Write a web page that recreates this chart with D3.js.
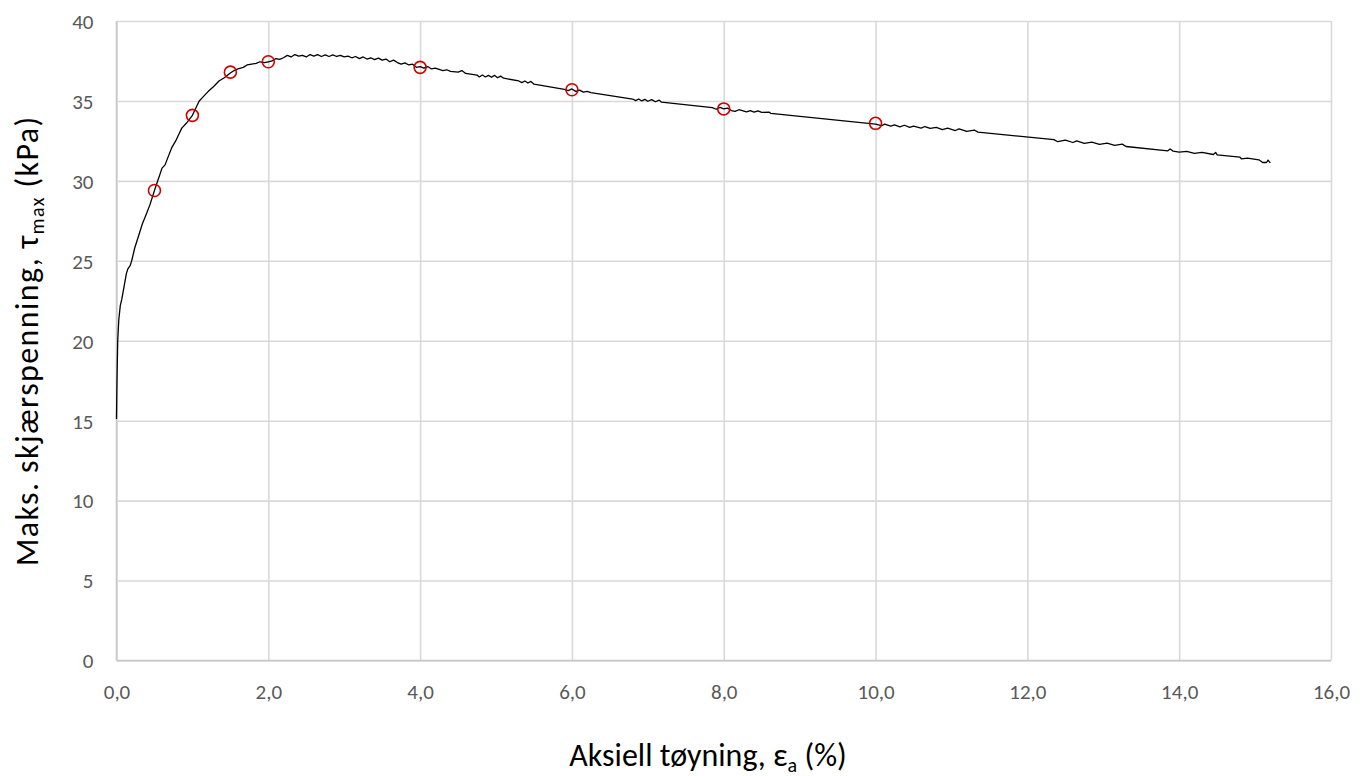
<!DOCTYPE html>
<html>
<head>
<meta charset="utf-8">
<script src="https://cdn.jsdelivr.net/npm/d3@7/dist/d3.min.js"></script>
<style>
  html, body { margin: 0; padding: 0; background: #ffffff; }
  svg { display: block; }
  text { font-family: Carlito, Calibri, Lato, "Liberation Sans", sans-serif; }
</style>
</head>
<body>
<svg id="chart" width="1369" height="776"></svg>
<script>
// ---- Data ----
const strain = [
  0.00, 0.005, 0.01, 0.016, 0.03, 0.05, 0.07, 0.10, 0.13, 0.15, 0.18, 0.20, 0.24, 0.28, 0.34, 0.40, 0.44,
  0.50, 0.55, 0.60, 0.64, 0.68, 0.73, 0.78, 0.82, 0.86, 0.92, 1.00, 1.05, 1.09, 1.15, 1.21, 1.28, 1.35,
  1.42, 1.50, 1.55, 1.60, 1.67, 1.72, 1.78, 1.84, 1.89, 1.95, 2.00, 2.05, 2.10, 2.15, 2.20, 2.25, 2.30,
  2.35, 2.40, 2.45, 2.50, 2.55, 2.60, 2.65, 2.70, 2.75, 2.80, 2.85, 2.90, 2.95, 3.00, 3.05, 3.10, 3.15,
  3.20, 3.25, 3.30, 3.35, 3.40, 3.45, 3.50, 3.55, 3.60, 3.65, 3.70, 3.75, 3.80, 3.85, 3.90, 3.95, 4.00,
  4.05, 4.10, 4.15, 4.20, 4.30, 4.35, 4.40, 4.50, 4.55, 4.60, 4.75, 4.78, 4.82, 4.86, 4.90, 4.94, 4.98,
  5.02, 5.06, 5.10, 5.30, 5.34, 5.38, 5.42, 5.46, 5.50, 5.90, 5.95, 6.00, 6.05, 6.10, 6.15, 6.20, 6.25,
  6.80, 6.84, 6.88, 6.92, 6.96, 7.00, 7.05, 7.10, 7.15, 7.18, 7.85, 7.90, 7.95, 8.00, 8.05, 8.10, 8.15,
  8.20, 8.30, 8.35, 8.40, 8.45, 8.50, 8.60, 8.62, 10.00, 10.08, 10.12, 10.20, 10.25, 10.32, 10.38, 10.45,
  10.50, 10.60, 10.65, 10.72, 10.80, 10.88, 10.95, 11.05, 11.10, 11.20, 11.30, 11.35, 12.35, 12.40, 12.50,
  12.60, 12.65, 12.75, 12.85, 12.95, 13.05, 13.15, 13.25, 13.30, 13.85, 13.88, 13.92, 14.00, 14.10, 14.20,
  14.30, 14.45, 14.48, 14.50, 14.80, 14.82, 14.90, 15.05, 15.10, 15.15, 15.17, 15.20
];
const stress = [
  15.1, 17.0, 18.5, 20.0, 21.3, 22.2, 22.6, 23.4, 24.2, 24.5, 24.7, 25.0, 25.8, 26.4, 27.3, 28.0, 28.5,
  29.4, 30.1, 30.8, 31.0, 31.5, 32.1, 32.5, 32.9, 33.3, 33.6, 34.1, 34.6, 35.0, 35.3, 35.6, 35.9, 36.25,
  36.45, 36.75, 36.9, 37.0, 37.1, 37.25, 37.3, 37.35, 37.45, 37.4, 37.45, 37.5, 37.65, 37.6, 37.7, 37.85, 37.75,
  37.9, 37.8, 37.85, 37.75, 37.9, 37.8, 37.9, 37.78, 37.88, 37.78, 37.88, 37.78, 37.85, 37.75, 37.8, 37.7, 37.78,
  37.65, 37.75, 37.62, 37.7, 37.58, 37.68, 37.55, 37.62, 37.45, 37.55, 37.4, 37.3, 37.38, 37.25, 37.3, 37.1, 37.15,
  37.05, 37.15, 37.0, 37.05, 36.9, 36.95, 36.85, 36.8, 36.9, 36.72, 36.62, 36.5, 36.62, 36.5, 36.6, 36.48, 36.6,
  36.45, 36.55, 36.42, 36.25, 36.15, 36.25, 36.12, 36.22, 36.05, 35.72, 35.65, 35.75, 35.6, 35.68, 35.55, 35.6, 35.52,
  35.12, 35.02, 35.12, 35.0, 35.1, 34.98, 35.08, 34.95, 35.05, 34.92, 34.58, 34.48, 34.6, 34.5, 34.55, 34.4, 34.35,
  34.45, 34.32, 34.4, 34.3, 34.38, 34.28, 34.3, 34.22, 33.55, 33.45, 33.55, 33.42, 33.5, 33.38, 33.48, 33.35,
  33.42, 33.3, 33.4, 33.28, 33.35, 33.2, 33.3, 33.15, 33.25, 33.1, 33.18, 33.05, 32.58, 32.45, 32.55,
  32.4, 32.5, 32.35, 32.42, 32.28, 32.36, 32.22, 32.3, 32.15, 31.88, 32.0, 31.86, 31.8, 31.85, 31.72,
  31.78, 31.65, 31.78, 31.63, 31.48, 31.38, 31.42, 31.32, 31.15, 31.15, 31.3, 31.12
];
const markerStrain = [0.5, 1.0, 1.5, 2.0, 4.0, 6.0, 8.0, 10.0];
const markerStress = [29.4, 34.1, 36.8, 37.45, 37.1, 35.7, 34.5, 33.6];
const xTicks = [0, 2, 4, 6, 8, 10, 12, 14, 16];
const yTicks = [0, 5, 10, 15, 20, 25, 30, 35, 40];

// ---- Layout ----
const svg = d3.select("#chart");
const mLeft = 116.5, mRight = 1331, mTop = 21, mBottom = 660.5;
const x = d3.scaleLinear().domain([0, 16]).range([mLeft, mRight]);
const y = d3.scaleLinear().domain([0, 40]).range([mBottom, mTop]);
const gridColor = "#d9d9d9";
const labelColor = "#595959";
const fmtX = d => d3.format(".1f")(d).replace(".", ",");

const xAxis = d3.axisBottom(x).tickValues(xTicks).tickSize(-(mBottom - mTop)).tickFormat(fmtX);
const yAxis = d3.axisLeft(y).tickValues(yTicks).tickSize(-(mRight - mLeft)).tickFormat(d3.format("d"));

const gx = svg.append("g").attr("transform", `translate(0,${mBottom})`).call(xAxis);
const gy = svg.append("g").attr("transform", `translate(${mLeft},0)`).call(yAxis);
[gx, gy].forEach(g => {
  g.select(".domain").remove();
  g.selectAll(".tick line").attr("stroke", gridColor).attr("stroke-width", 1.6);
  g.selectAll(".tick text").attr("fill", labelColor).style("font-size", "21px");
});
gx.selectAll(".tick text").attr("y", 31).attr("dy", "0.35em");
gy.selectAll(".tick text").attr("x", -23).attr("dy", "0.35em");
svg.append("line").attr("x1", mLeft).attr("x2", mLeft).attr("y1", mTop).attr("y2", mBottom)
  .attr("stroke", "#c8c8c8").attr("stroke-width", 1.6);
svg.append("line").attr("x1", mLeft).attr("x2", mRight).attr("y1", mBottom).attr("y2", mBottom)
  .attr("stroke", "#c8c8c8").attr("stroke-width", 1.6);

// data line
const pts = strain.map((s, i) => [s, stress[i]]);
svg.append("path").datum(pts)
  .attr("fill", "none").attr("stroke", "#000").attr("stroke-width", 1.3)
  .attr("stroke-linejoin", "round")
  .attr("d", d3.line().x(d => x(d[0])).y(d => y(d[1])));

// markers
svg.append("g").selectAll("circle").data(markerStrain.map((s, i) => [s, markerStress[i]]))
  .join("circle")
  .attr("cx", d => x(d[0])).attr("cy", d => y(d[1])).attr("r", 6)
  .attr("fill", "none").attr("stroke", "#d00000").attr("stroke-width", 1.6);

// axis titles
const xt = svg.append("text").attr("x", 708).attr("y", 766).attr("text-anchor", "middle")
  .attr("fill", "#000").style("font-size", "32px");
xt.append("tspan").text("Aksiell tøyning, ε");
xt.append("tspan").text("a").attr("dy", 6).style("font-size", "20px");
xt.append("tspan").text(" (%)").attr("dy", -6);

const yt = svg.append("text").attr("transform", `translate(38,${(mTop + mBottom) / 2}) rotate(-90)`)
  .attr("text-anchor", "middle").attr("fill", "#000").style("font-size", "32px")
  .style("letter-spacing", "1.4px");
yt.append("tspan").text("Maks. skjærspenning, τ");
yt.append("tspan").text("max").attr("dy", 6).style("font-size", "20px");
yt.append("tspan").text(" (kPa)").attr("dy", -6);
</script>
</body>
</html>
